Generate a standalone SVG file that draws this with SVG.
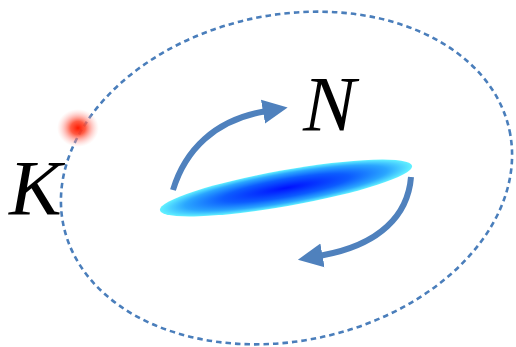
<svg xmlns="http://www.w3.org/2000/svg" width="516" height="347" viewBox="0 0 516 347">
  <defs>
    <radialGradient id="gBlue" cx="0.5" cy="0.5" r="0.5">
      <stop offset="0" stop-color="#0010ff"/>
      <stop offset="0.5" stop-color="#0c5cff"/>
      <stop offset="0.8" stop-color="#2aa6ff"/>
      <stop offset="1" stop-color="#62f2ff"/>
    </radialGradient>
    <radialGradient id="gRed" cx="0.5" cy="0.5" r="0.5">
      <stop offset="0" stop-color="#ff1a00"/>
      <stop offset="0.35" stop-color="#ff4a30" stop-opacity="0.9"/>
      <stop offset="0.7" stop-color="#ff9088" stop-opacity="0.45"/>
      <stop offset="1" stop-color="#ffc0b8" stop-opacity="0"/>
    </radialGradient>
    <marker id="ah" markerUnits="userSpaceOnUse" markerWidth="26" markerHeight="26" refX="1" refY="13" orient="auto" viewBox="0 0 26 26">
      <path d="M0,1 L25,13 L0,25 Z" fill="#4f81bd"/>
    </marker>
    <style>
      .orbit{fill:none;stroke:#4a7ebb;stroke-width:2.6;stroke-dasharray:5.5 4}
      .arr{fill:none;stroke:#4f81bd;stroke-width:6;marker-end:url(#ah)}
      .lbl{font-family:"Liberation Serif","Times New Roman",serif;font-style:italic;font-size:79px;fill:#000}
    </style>
  </defs>
  <g id="orbit">
    <ellipse class="orbit" cx="286.5" cy="178" rx="228" ry="163" transform="rotate(-12 286.5 178)"/>
  </g>
  <g id="particle">
    <ellipse cx="78" cy="128" rx="21" ry="19" fill="url(#gRed)"/>
  </g>
  <g id="disk">
    <ellipse cx="286" cy="188" rx="128" ry="18" transform="rotate(-10 286 188)" fill="url(#gBlue)"/>
  </g>
  <g id="connectors">
    <path class="arr" d="M173,190 C185,150 215,120 264,111.5"/>
    <path class="arr" d="M411,177 C408,215 380,245 321.5,255.5"/>
  </g>
  <g id="label-K">
    <text class="lbl" x="9" y="214">K</text>
  </g>
  <g id="label-N">
    <text class="lbl" x="303" y="130">N</text>
  </g>
</svg>
